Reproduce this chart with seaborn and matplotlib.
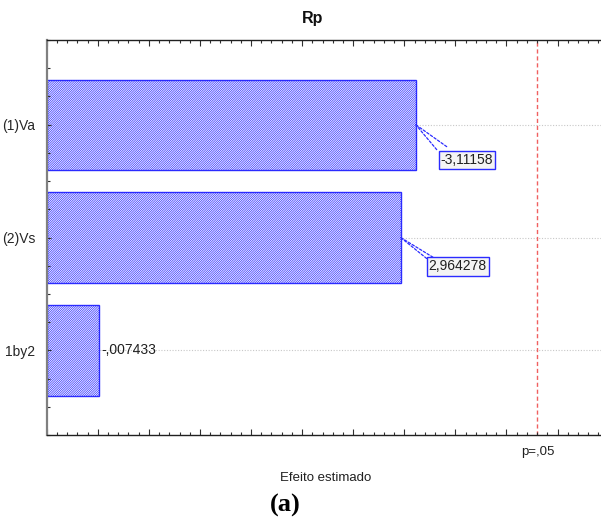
import matplotlib
matplotlib.use("Agg")
import matplotlib.pyplot as plt
import seaborn as sns
import pandas as pd
from matplotlib.ticker import MultipleLocator

# Standardized effects (t values) for response Rp
factors = ["(1)Va", "(2)Vs", "1by2"]
effects = [-3.11158, 2.964278, -0.007433]
t_critical = 4.302653          # p = .05
axis_start = -0.5              # bars grow from the left edge of the axis
axis_end = 4.925

def fmt(v):
    s = f"{v:.7g}".replace(".", ",")
    s = s.replace("-0,", "-,")
    if s.startswith("0,"):
        s = s[1:]
    return s

df = pd.DataFrame({"factor": factors, "effect": effects})
df["abs_effect"] = df["effect"].abs()

sns.set_theme(style="white")
plt.rcParams["font.family"] = ["Liberation Sans Narrow", "Liberation Sans", "DejaVu Sans"]
plt.rcParams["hatch.linewidth"] = 0.5

W, H = 601, 523
fig = plt.figure(figsize=(W / 100, H / 100), dpi=100)
ax = fig.add_axes([46.7 / W, (H - 435) / H, (W - 46.7) / W, (435 - 40) / H])

blue = "#2b2bff"
sns.barplot(data=df, x="abs_effect", y="factor", orient="h", ax=ax,
            width=0.8, color="white", edgecolor=blue, linewidth=1.0, zorder=2)

# bars start at the left edge of the axis
for p in ax.patches:
    right = p.get_x() + p.get_width()
    p.set_x(axis_start)
    p.set_width(right - axis_start)
    p.set_facecolor("white")
    p.set_edgecolor(blue)
    p.set_hatch("/" * 15)
    p.set_zorder(2)

ax.xaxis.set_zorder(5)
ax.yaxis.set_zorder(5)
ax.set_xlim(axis_start, axis_end)
ax.set_ylim(2.75, -0.75)

# dotted guide lines at each factor
for i in range(len(factors)):
    ax.axhline(i, color="#c8c8c8", lw=0.8, ls=(0, (1, 1.5)), zorder=1)

# significance threshold
ax.axvline(t_critical, color="#f06060", lw=1.0, ls=(0, (3, 2)), zorder=1.5)

# ticks
ax.xaxis.set_major_locator(MultipleLocator(0.5))
ax.xaxis.set_minor_locator(MultipleLocator(0.1))
ax.yaxis.set_minor_locator(MultipleLocator(0.25))
ax.tick_params(axis="x", which="both", direction="in", top=True, bottom=True,
               labelbottom=False, color="#303030", width=0.8)
ax.tick_params(axis="x", which="major", length=4)
ax.tick_params(axis="x", which="minor", length=2.2)
ax.tick_params(axis="y", which="both", direction="in", left=True, right=False,
               color="#303030", width=0.8)
ax.tick_params(axis="y", which="major", length=3, pad=8, labelsize=10)
ax.tick_params(axis="y", which="minor", length=2)
ax.set_xlabel("")
ax.set_ylabel("")

for side in ["top", "bottom"]:
    ax.spines[side].set_color("#202020")
    ax.spines[side].set_linewidth(1.0)
    ax.spines[side].set_zorder(6)
ax.spines["left"].set_color("#808080")
ax.spines["left"].set_linewidth(1.6)
ax.spines["left"].set_zorder(6)
ax.spines["right"].set_visible(False)

# value labels with dashed leaders
label_offsets = [(25, -35), (28, -29), (3, 0)]
boxed = [True, True, False]
leaders = [
    [((0, -1), (31, -22)), ((4, -5), (21, -25))],
    [((1, -1), (36, -22)), ((6, -5), (26, -21))],
    [],
]
for i, v in enumerate(effects):
    x = abs(v)
    dx, dy = label_offsets[i]
    bbox = None
    if boxed[i]:
        bbox = dict(boxstyle="square,pad=0.15", fc="#f4f4f4", ec=blue, lw=1.0)
    ax.annotate(fmt(v), xy=(x, i), xytext=(dx, dy), textcoords="offset pixels",
                ha="left", va="center", fontsize=10, color="#202020",
                bbox=bbox, zorder=6)
    for (a, b) in leaders[i]:
        ax.annotate("", xy=(x, i), xytext=b, textcoords="offset pixels",
                    arrowprops=dict(arrowstyle="-", color=blue, lw=0.9,
                                    ls=(0, (2, 1.5)), shrinkA=0, shrinkB=0),
                    zorder=5)

# threshold label under the axis
ax.annotate("p=,05", xy=(t_critical, 0), xycoords=("data", "axes fraction"),
            xytext=(0, -17), textcoords="offset pixels", ha="center", va="center",
            fontsize=9.5, color="#202020")

fig.text(313 / W, 1 - 19 / H, "Rp", ha="center", va="center",
         fontsize=11.5, fontweight="bold", color="#101010")
fig.text(326 / W, 1 - 478 / H, "Efeito estimado", ha="center", va="center",
         fontsize=9.5, color="#202020")
fig.text(285 / W, 1 - 505 / H, "(a)", ha="center", va="center",
         fontsize=19, fontweight="bold", family="Liberation Serif", color="black")

fig.savefig("out.png", dpi=100)
